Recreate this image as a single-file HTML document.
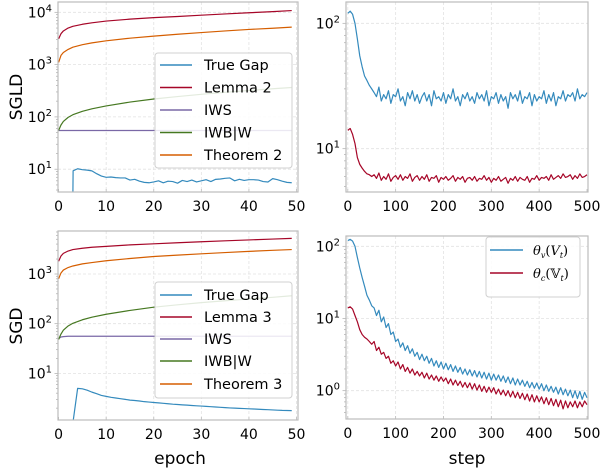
<!DOCTYPE html>
<html><head><meta charset="utf-8">
<style>
html,body{margin:0;padding:0;background:#fff;}
svg{display:block;font-family:"DejaVu Sans","Liberation Sans",sans-serif;}
</style></head>
<body>
<svg id="chart" width="602" height="468" viewBox="0 0 602 468" xmlns="http://www.w3.org/2000/svg"></svg>
<script>
// ---------- data ----------
const epochX = [0,0.5,1,2,3,5,7,10,15,20,25,30,35,40,45,49];
const sgldLemma2 = [3100,3900,4400,5000,5400,5900,6300,6800,7400,7900,8300,8800,9300,9800,10300,10800];
const sgldTheorem2 = [1100,1500,1700,1950,2150,2400,2600,2850,3200,3500,3800,4100,4400,4700,4950,5200];
const sgldIWBW = [55,70,82,98,110,128,143,162,192,220,245,270,295,320,345,365];
const sgldIWS = [55,55,55,55,55,55,55,55,55,55,55,55,55,55,55,55];
const sgldGapX = [3,3.05,4,5,6,7,8,9,10,11,12,13,14,15,16,17,18,19,20,21,22,23,24,25,26,27,28,29,30,31,32,33,34,35,36,37,38,39,40,41,42,43,44,45,46,47,48,49];
const sgldGap = [3,9.3,10.2,9.8,9.6,9.3,8.2,7.4,7.0,7.1,6.9,6.8,6.8,6.2,6.4,5.9,5.6,5.5,5.7,6.0,5.5,5.9,5.8,5.4,6.1,5.8,6.2,5.7,6.0,6.3,5.8,6.4,6.5,6.7,6.8,6.0,6.4,6.1,6.3,6.3,6.2,5.8,5.7,6.6,6.3,5.9,5.6,5.5];

const sgdLemma3 = [1800,2300,2600,2900,3100,3300,3450,3600,3850,4050,4250,4450,4650,4850,5050,5200];
const sgdTheorem3 = [800,1050,1200,1350,1450,1600,1700,1850,2050,2250,2400,2550,2700,2850,3000,3100];
const sgdIWBW = [48,62,74,90,102,120,135,155,185,215,240,265,290,315,340,365];
const sgdIWS = [50,54,55,56,56,56,56,56,56,56,56,56,56,56,56,56];
const sgdGapX = [3,4,5,6,7,8,9,10,11,12,13,14,15,16,17,18,19,20,21,22,23,24,25,26,27,28,29,30,31,32,33,34,35,36,37,38,39,40,41,42,43,44,45,46,47,48,49];
const sgdGap = [1.0,5.0,4.9,4.6,4.2,3.9,3.6,3.45,3.3,3.2,3.1,3.0,2.9,2.85,2.78,2.7,2.65,2.6,2.55,2.5,2.45,2.4,2.37,2.33,2.3,2.26,2.23,2.2,2.17,2.14,2.11,2.08,2.05,2.02,2.0,1.98,1.96,1.94,1.92,1.9,1.88,1.86,1.84,1.82,1.8,1.79,1.78];

const stepInterval = 5;
const sgldThetaV = [120,125,118,100,75,55,45,38,35,32,30,
28,26,31,24,27,25,29,23,27,26,
30,24,26,22,28,25,29,24,27,23,
26,28,24,27,22,29,25,26,24,28,
23,27,25,30,24,26,22,27,25,28,
24,26,23,28,25,27,24,29,22,26,
25,28,23,27,24,26,21,28,25,27,
24,29,23,26,25,28,22,27,24,26,
25,29,23,27,24,28,22,26,25,29,
24,27,26,28,24,30,25,27,26,28];
const sgldThetaC = [14,14.5,13,11,8.5,7.5,7,6.6,6.3,6.2,6.0,
6.2,5.8,6.4,5.6,6.0,5.7,6.3,5.5,5.9,6.1,
5.7,6.2,5.6,6.0,5.8,6.3,5.5,5.9,6.1,5.6,
6.0,5.7,6.2,5.5,5.9,5.8,6.1,5.4,5.9,5.7,
6.0,5.6,5.8,6.1,5.5,5.9,5.7,6.0,5.4,5.8,
5.9,5.6,6.0,5.5,5.8,5.7,6.1,5.6,5.9,5.4,
5.8,5.6,6.0,5.5,5.7,5.9,5.3,5.8,5.6,6.0,
5.5,5.9,5.7,5.6,6.0,5.4,5.8,5.7,6.1,5.6,
5.9,5.8,6.0,5.6,6.2,5.7,5.9,6.1,5.8,6.3,
5.9,6.0,6.2,5.7,6.1,5.8,6.3,5.9,6.0,6.2];
const sgdThetaV = [120,125,118,100,70,50,37,28,21,18,15,
14,11,13,9,10.5,7.5,8.5,6,6.5,4.8,
5.2,4.0,4.6,3.6,4.2,3.3,3.8,3.0,3.4,2.7,
3.2,2.6,3.0,2.4,2.8,2.2,2.6,2.1,2.5,2.0,
2.4,1.95,2.3,1.85,2.2,1.8,2.1,1.7,2.0,1.65,
1.95,1.6,1.9,1.55,1.85,1.5,1.8,1.45,1.75,1.4,
1.7,1.4,1.65,1.35,1.6,1.3,1.55,1.25,1.5,1.2,
1.45,1.2,1.4,1.15,1.35,1.1,1.3,1.08,1.28,1.05,
1.25,1.0,1.2,0.98,1.15,0.95,1.12,0.9,1.1,0.88,
1.05,0.85,1.02,0.8,1.0,0.78,0.98,0.76,0.95,0.8];
const sgdThetaC = [14,14.5,13.5,11,9,7,6,5.5,5.2,4.8,4.4,
4.8,3.6,4.0,3.2,3.4,2.8,3.0,2.4,2.6,2.2,
2.5,2.0,2.3,1.85,2.1,1.75,2.0,1.65,1.85,1.6,
1.8,1.5,1.75,1.45,1.65,1.4,1.6,1.35,1.55,1.35,
1.5,1.25,1.45,1.2,1.4,1.18,1.35,1.12,1.3,1.1,
1.28,1.05,1.25,1.02,1.2,0.98,1.15,0.95,1.12,0.95,
1.1,0.9,1.05,0.88,1.02,0.85,1.0,0.82,0.98,0.8,
0.95,0.78,0.92,0.75,0.9,0.72,0.88,0.7,0.85,0.7,
0.82,0.66,0.8,0.64,0.78,0.62,0.76,0.6,0.74,0.56,
0.72,0.58,0.7,0.6,0.72,0.58,0.7,0.6,0.72,0.64];

const epochTicks = [0,10,20,30,40,50];
const stepTicks = [0,100,200,300,400,500];
const tlDecades = [1,2,3,4];
const trDecades = [1,2];
const blDecades = [1,2,3];
const brDecades = [0,1,2];

// ---------- drawing ----------
const NS = "http://www.w3.org/2000/svg";
const svg = document.getElementById('chart');
function mk(tag, attrs, parent){ const e=document.createElementNS(NS,tag); for(const k in attrs) e.setAttribute(k,attrs[k]); (parent||svg).appendChild(e); return e; }
const C = {blue:'#348ABD', red:'#A60628', purple:'#7A68A6', green:'#467821', orange:'#D55E00'};

function panel(name, box, xd, yd, xTicks, decades){
  // box: [x0,y0,x1,y1], xd: [dataMin, pxMin, dataMax, pxMax], yd: [logA, pxA, logB, pxB]
  const g = mk('g', {});
  
  
  const X = v => xd[1] + (v - xd[0]) * (xd[3]-xd[1])/(xd[2]-xd[0]);
  const Y = v => yd[1] + (Math.log10(v) - yd[0]) * (yd[3]-yd[1])/(yd[2]-yd[0]);
  const cid = name + '-clip';
  const cp = mk('clipPath', {id: cid}, g);
  mk('rect', {x:box[0], y:box[1], width:box[2]-box[0], height:box[3]-box[1]}, cp);
  // grid
  const grid = mk('g', {stroke:'#e2e2e2', 'stroke-width':0.8, 'stroke-dasharray':'3,2'}, g);
  
  
  xTicks.forEach(t => { const x=X(t); if(x>box[0]+1 && x<box[2]-1) mk('line',{x1:x,x2:x,y1:box[1],y2:box[3]},grid); });
  decades.forEach(d => { const y=Y(Math.pow(10,d)); if(y>box[1] && y<box[3]) mk('line',{x1:box[0],x2:box[2],y1:y,y2:y},grid); });
  // ticks + labels
  const tk = mk('g', {fill:'#000', 'font-size':14}, g);
  
  
  xTicks.forEach(t => {
    const x=X(t);
    mk('line',{x1:x,x2:x,y1:box[3],y2:box[3]-3,stroke:'#bcbcbc','stroke-width':0.8},tk);
    const tx = mk('text',{x:x,y:box[3]+19,'text-anchor':'middle'},tk); tx.textContent = t;
  });
  for(let d=Math.floor(yd[2])-1; d<=Math.ceil(yd[0])+1; d++){
    for(let m=1;m<10;m++){
      const v=m*Math.pow(10,d), y=Y(v);
      if(y<box[1]||y>box[3]) continue;
      mk('line',{x1:box[0],x2:box[0]-(m===1?3.5:2),y1:y,y2:y,stroke:'#aaa','stroke-width':0.7},tk);
    }
  }
  decades.forEach(d => {
    const y=Y(Math.pow(10,d));
    if(y<box[1]-2||y>box[3]+2) return;
    const t = mk('text',{x:box[0]-6,y:y+5,'text-anchor':'end'},tk);
    
    
    const a = mk('tspan',{},t); a.textContent='10';
    const b = mk('tspan',{dy:-6,'font-size':10},t); b.textContent=String(d);
    // end-anchored: shift to keep right edge
  });
  const plot = mk('g', {'clip-path':'url(#'+cid+')', fill:'none', 'stroke-width':1.2, 'stroke-linejoin':'round'}, g);
  
  
  // frame
  const fr = mk('rect',{x:box[0],y:box[1],width:box[2]-box[0],height:box[3]-box[1],fill:'none',stroke:'#bcbcbc','stroke-width':1.2},g);
  
  
  function line(xs, ys, color, lname){
    const p = xs.map((x,i)=>X(x).toFixed(2)+','+Y(ys[i]).toFixed(2)).join(' ');
    const pl = mk('polyline',{points:p, stroke:color}, plot);
    
    
  }
  return {line, g};
}
function stepsFor(arr){ return arr.map((_,i)=>i*stepInterval); }

// top-left SGLD
const tl = panel('sgld-epoch-panel',[58,2,298,192],[0,58.6,50,296.5],[4,12.3,1,169.2],epochTicks,tlDecades);
tl.line(epochX,sgldLemma2,C.red,'lemma2-line');
tl.line(epochX,sgldTheorem2,C.orange,'theorem2-line');
tl.line(epochX,sgldIWS,C.purple,'iws-line');
tl.line(epochX,sgldIWBW,C.green,'iwbw-line');
tl.line(sgldGapX,sgldGap,C.blue,'true-gap-line');
// top-right
const tr = panel('sgld-step-panel',[346,2,588,192],[0,347.8,500,587],[2,23.3,1,148.7],stepTicks,trDecades);
tr.line(stepsFor(sgldThetaV),sgldThetaV,C.blue,'theta-v-line');
tr.line(stepsFor(sgldThetaC),sgldThetaC,C.red,'theta-c-line');
// bottom-left
const bl = panel('sgd-epoch-panel',[58,231,298,420],[0,58.6,50,296.5],[3,274,1,373.4],epochTicks,blDecades);
bl.line(epochX,sgdLemma3,C.red,'lemma3-line');
bl.line(epochX,sgdTheorem3,C.orange,'theorem3-line');
bl.line(epochX,sgdIWS,C.purple,'iws-line');
bl.line(epochX,sgdIWBW,C.green,'iwbw-line');
bl.line(sgdGapX,sgdGap,C.blue,'true-gap-line');
// bottom-right
const br = panel('sgd-step-panel',[346,236,588,419],[0,347.8,500,587],[2,246.3,0,390.7],stepTicks,brDecades);
br.line(stepsFor(sgdThetaV),sgdThetaV,C.blue,'theta-v-line');
br.line(stepsFor(sgdThetaC),sgdThetaC,C.red,'theta-c-line');

// legends
function legend(name, x, y, w, h, items, rowY, lineX0, lineX1, textX, fontSize, italic){
  const g = mk('g',{});
  
  
  mk('rect',{x:x,y:y,width:w,height:h,rx:3,fill:'#fff','fill-opacity':0.85,stroke:'#d0d0d0','stroke-width':1},g);
  items.forEach((it,i)=>{
    const ry = rowY[i];
    const e = mk('g',{},g);
    
    
    mk('line',{x1:lineX0,x2:lineX1,y1:ry,y2:ry,stroke:it[1],'stroke-width':1.5},e);
    const t = mk('text',{x:textX,y:ry+5,'font-size':fontSize,fill:'#000'},e);
    if(italic){ t.setAttribute('font-family','"DejaVu Serif","Liberation Serif",serif'); }
    t.innerHTML = it[0];
  });
}
legend('sgld-legend',155,53,137,115,[['True Gap',C.blue],['Lemma 2',C.red],['IWS',C.purple],['IWB|W',C.green],['Theorem 2',C.orange]],[65,87.5,110,132.5,155],160,192,204,14.5,false);
legend('sgd-legend',155,282,137,116,[['True Gap',C.blue],['Lemma 3',C.red],['IWS',C.purple],['IWB|W',C.green],['Theorem 3',C.orange]],[295,317,339,361,384],160,192,204,14.5,false);
legend('theta-legend',486,237,94,60,[['<tspan font-style="italic">θ</tspan><tspan font-size="8" dy="3" font-style="italic">v</tspan><tspan dy="-3">(</tspan><tspan font-style="italic">V</tspan><tspan font-size="8" dy="3" font-style="italic">t</tspan><tspan dy="-3">)</tspan>',C.blue],['<tspan font-style="italic">θ</tspan><tspan font-size="8" dy="3" font-style="italic">c</tspan><tspan dy="-3">(𝕍</tspan><tspan font-size="8" dy="3" font-style="italic">t</tspan><tspan dy="-3">)</tspan>',C.red]],[250,273],490,523,533,13,true);

// axis titles
function title(txt, x, y, rot, nm){
  const t = mk('text',{x:x,y:y,'text-anchor':'middle','font-size':17,fill:'#000'});
  if(rot) t.setAttribute('transform','rotate(-90 '+x+' '+y+')');
  
  
  t.textContent = txt;
}
title('SGLD',22,97,true,'sgld-y-axis-title');
title('SGD',22,326,true,'sgd-y-axis-title');
title('epoch',180,464,false,'epoch-x-axis-title');
title('step',467,464,false,'step-x-axis-title');
</script>
</body></html>
